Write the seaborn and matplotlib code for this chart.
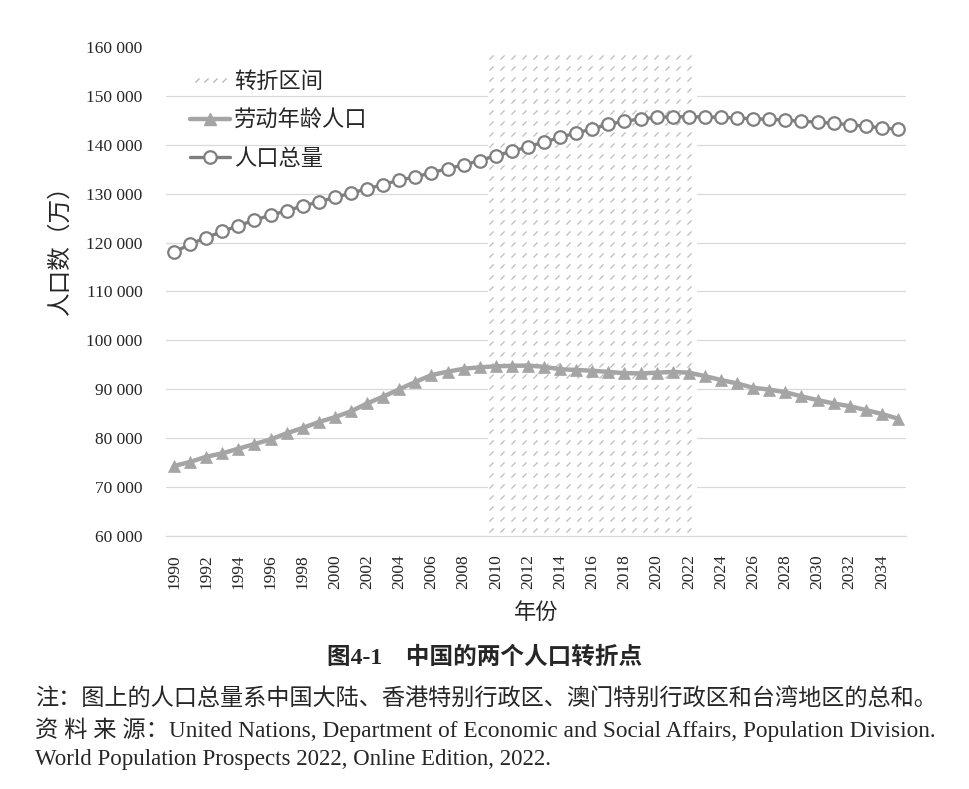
import numpy as np
import seaborn as sns
import matplotlib.pyplot as plt
from matplotlib.lines import Line2D
from matplotlib.path import Path
from matplotlib.legend_handler import HandlerLine2D
from matplotlib.ticker import FuncFormatter


years = list(range(1990, 2036))

# 人口总量（万）
total_pop = [118000, 119700, 121000, 122300, 123450, 124600, 125600, 126500, 127500, 128300,
             129250, 130100, 131000, 131850, 132800, 133400, 134300, 135100, 135900, 136750,
             137800, 138650, 139600, 140550, 141500, 142450, 143200, 144200, 144800, 145300,
             145600, 145750, 145750, 145700, 145620, 145480, 145340, 145200, 145070, 144800,
             144650, 144400, 144100, 143800, 143450, 143150]

# 劳动年龄人口（万）
working_pop = [74300, 75150, 76200, 76900, 77850, 78800, 79750, 81000, 82100, 83300,
               84300, 85500, 87100, 88500, 90000, 91500, 92900, 93600, 94200, 94500,
               94700, 94800, 94850, 94600, 94100, 93950, 93800, 93550, 93300, 93250,
               93400, 93550, 93400, 92700, 91900, 91200, 90300, 89950, 89400, 88550,
               87800, 87100, 86550, 85750, 84950, 84000]

turn_start, turn_end = 2010, 2022

x_ticks = list(range(1990, 2035, 2))
y_ticks = list(range(60000, 160001, 10000))


sns.set_style('white')
plt.rcParams['font.family'] = ['Liberation Serif', 'Noto Sans CJK SC']
plt.rcParams['axes.unicode_minus'] = False

fig = plt.figure(figsize=(9.69, 7.89), dpi=100)
ax = fig.add_axes([0.1713, 0.3207, 0.7637, 0.6197])

# 转折区间: white band with small slash dashes
ax.axvspan(turn_start - 0.5, turn_end + 0.5, facecolor='white', edgecolor='none', zorder=1)
slash = Path([(-1, -1), (1, 1)], [Path.MOVETO, Path.LINETO])
dash_x = np.arange(turn_start - 0.3, turn_end + 0.5, 0.683)
dash_y = np.arange(61200, 160000, 2250)
gx, gy = np.meshgrid(dash_x, dash_y)
ax.plot(gx.ravel(), gy.ravel(), linestyle='none', marker=slash, markersize=3,
        markeredgecolor='#bcbcbc', markeredgewidth=0.9, zorder=1.5)

sns.lineplot(x=years, y=working_pop, ax=ax, color='#a5a5a5', linewidth=3.2,
             marker='^', markersize=9, markerfacecolor='#a5a5a5',
             markeredgecolor='#a5a5a5', markeredgewidth=0.5, zorder=3)
sns.lineplot(x=years, y=total_pop, ax=ax, color='#7f7f7f', linewidth=2.4,
             marker='o', markersize=9, markerfacecolor='white',
             markeredgecolor='#7f7f7f', markeredgewidth=1.6, zorder=4)

ax.set_xlim(1989.5, 2035.5)
ax.set_ylim(60000, 160000)
ax.set_xticks(x_ticks)
ax.set_xticklabels([str(y) for y in x_ticks], rotation=90, fontsize=12.5)
ax.set_yticks(y_ticks)
ax.yaxis.set_major_formatter(FuncFormatter(lambda v, p: f'{int(v):,}'.replace(',', ' ')))
ax.tick_params(axis='y', labelsize=12.5, length=0, pad=17)
ax.tick_params(axis='x', length=0, pad=13)

ax.set_axisbelow(True)
ax.grid(axis='y', color='#d9d9d9', linewidth=0.9)
ax.grid(axis='x', visible=False)
ax.yaxis.get_gridlines()[-1].set_visible(False)

sns.despine(ax=ax, left=True, top=True, right=True)
ax.spines['bottom'].set_color('#d9d9d9')
ax.spines['bottom'].set_linewidth(0.9)

ax.set_xlabel('年份', fontsize=16, labelpad=10)
ax.set_ylabel('人口数（万）', fontsize=17)
ax.yaxis.set_label_coords(-0.128, 0.597)

h_band = Line2D([], [], linestyle='none', marker=slash, markersize=3,
                markeredgecolor='#b4b4b4', markeredgewidth=0.9)
h_work = Line2D([], [], color='#a5a5a5', linewidth=3.2, marker='^', markersize=9,
                markerfacecolor='#a5a5a5', markeredgecolor='#a5a5a5')
h_total = Line2D([], [], color='#7f7f7f', linewidth=2.4, marker='o', markersize=9,
                 markerfacecolor='white', markeredgecolor='#7f7f7f', markeredgewidth=1.6)
ax.legend([h_band, h_work, h_total], ['转折区间', '劳动年龄人口', '人口总量'],
          handler_map={h_band: HandlerLine2D(numpoints=4)},
          loc='upper left', bbox_to_anchor=(0.006, 0.99), frameon=False,
          fontsize=16, handlelength=1.8, handletextpad=0.15, labelspacing=0.8)

fig.text(0.5, 0.166, '图4-1　中国的两个人口转折点', ha='center', va='center',
         fontsize=17, fontweight='bold')
fig.text(0.036, 0.114, '注：图上的人口总量系中国大陆、香港特别行政区、澳门特别行政区和台湾地区的总和。',
         ha='left', va='center', fontsize=16.7)
fig.text(0.036, 0.075, '资 料 来 源：United Nations, Department of Economic and Social Affairs, Population Division.',
         ha='left', va='center', fontsize=16.75)
fig.text(0.036, 0.038, 'World Population Prospects 2022, Online Edition, 2022.',
         ha='left', va='center', fontsize=16.5)

fig.savefig('out.png', dpi=100)
